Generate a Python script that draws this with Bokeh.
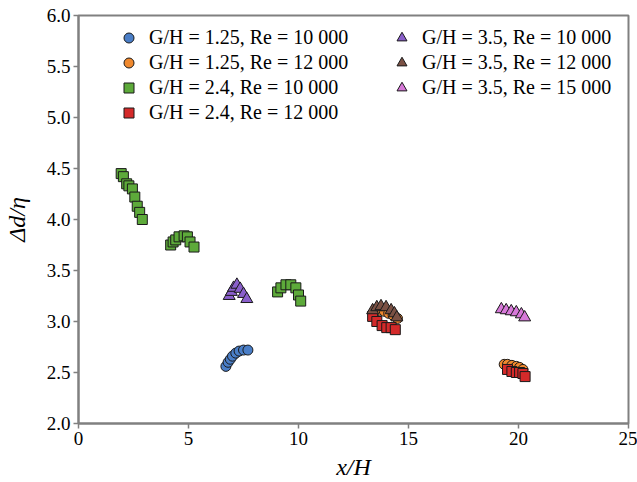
from bokeh.plotting import figure
from bokeh.models import Range1d, FixedTicker, Legend, LegendItem
from bokeh.embed import file_html
from bokeh.resources import INLINE

# ---------------- data ----------------
x_ticks = [0, 5, 10, 15, 20, 25]
x_tick_labels = ["0", "5", "10", "15", "20", "25"]
y_ticks = [2.0, 2.5, 3.0, 3.5, 4.0, 4.5, 5.0, 5.5, 6.0]
y_tick_labels = ["2.0", "2.5", "3.0", "3.5", "4.0", "4.5", "5.0", "5.5", "6.0"]

labels = [
    "G/H = 1.25, Re = 10 000",
    "G/H = 1.25, Re = 12 000",
    "G/H = 2.4, Re = 10 000",
    "G/H = 2.4, Re = 12 000",
    "G/H = 3.5, Re = 10 000",
    "G/H = 3.5, Re = 12 000",
    "G/H = 3.5, Re = 15 000",
]

blue_x = [6.70, 6.80, 6.90, 7.00, 7.15, 7.30, 7.50, 7.70]
blue_y = [2.56, 2.60, 2.63, 2.66, 2.69, 2.71, 2.72, 2.72]

orange_x = [13.50, 13.70, 13.90, 14.10, 14.30, 14.50, 19.35, 19.50, 19.70, 19.90, 20.05, 20.20]
orange_y = [3.10, 3.11, 3.10, 3.08, 3.06, 3.03, 2.58, 2.58, 2.57, 2.56, 2.55, 2.53]

green_x = [1.94, 2.04, 2.19, 2.29, 2.45, 2.56, 2.67, 2.78, 2.90,
           4.19, 4.30, 4.42, 4.57, 4.80, 4.95, 5.07, 5.25,
           9.05, 9.20, 9.43, 9.65, 9.88, 10.00, 10.10]
green_y = [4.45, 4.42, 4.35, 4.33, 4.30, 4.22, 4.13, 4.07, 4.00,
           3.75, 3.78, 3.80, 3.83, 3.84, 3.83, 3.78, 3.73,
           3.29, 3.33, 3.36, 3.36, 3.33, 3.26, 3.20]

red_x = [13.37, 13.56, 13.80, 14.01, 14.21, 14.40, 19.50, 19.70, 19.90, 20.05, 20.20, 20.30]
red_y = [3.05, 3.00, 2.96, 2.94, 2.94, 2.92, 2.53, 2.51, 2.50, 2.50, 2.49, 2.46]

purple_x = [6.85, 6.95, 7.05, 7.20, 7.35, 7.50, 7.65]
purple_y = [3.25, 3.29, 3.33, 3.36, 3.32, 3.27, 3.22]

brown_x = [13.37, 13.56, 13.75, 13.98, 14.21, 14.36, 14.47]
brown_y = [3.11, 3.14, 3.15, 3.14, 3.11, 3.08, 3.04]

pink_x = [19.22, 19.44, 19.67, 19.90, 20.13, 20.28]
pink_y = [3.12, 3.11, 3.10, 3.09, 3.07, 3.04]

# ---------------- figure ----------------
FONT = "Times"
AXIS_COLOR = "#808080"

p = figure(width=637, height=482, output_backend="svg", toolbar_location=None,
           x_range=Range1d(0, 25), y_range=Range1d(2, 6),
           min_border_left=78, min_border_right=9, min_border_top=15, min_border_bottom=58)
p.xgrid.visible = False
p.ygrid.visible = False
p.background_fill_color = "white"
p.border_fill_color = "white"
p.outline_line_color = AXIS_COLOR
p.outline_line_width = 2

p.xaxis.ticker = FixedTicker(ticks=x_ticks)
p.xaxis.major_label_overrides = {t: l for t, l in zip(x_ticks, x_tick_labels)}
p.yaxis.ticker = FixedTicker(ticks=y_ticks)
p.yaxis.major_label_overrides = {t: l for t, l in zip(y_ticks, y_tick_labels)}

for ax in (p.xaxis[0], p.yaxis[0]):
    ax.axis_line_color = AXIS_COLOR
    ax.axis_line_width = 2
    ax.major_tick_line_color = AXIS_COLOR
    ax.major_tick_line_width = 1.5
    ax.major_tick_in = 0
    ax.major_tick_out = 5
    ax.minor_tick_line_color = None
    ax.major_label_text_font = FONT
    ax.major_label_text_font_size = "19px"
    ax.major_label_text_color = "black"
    ax.axis_label_text_font = FONT
    ax.axis_label_text_font_size = "24px"
    ax.axis_label_text_font_style = "italic"
    ax.axis_label_text_color = "black"
    ax.major_label_standoff = 3

p.xaxis.axis_label = "x/H"
p.yaxis.axis_label = "Δd/η"
p.xaxis.axis_label_standoff = 6
p.yaxis.axis_label_standoff = 14

common = dict(line_color="#1a1a1a", line_width=1)
r_blue = p.scatter(blue_x, blue_y, marker="circle", size=10, fill_color="#4A7EC7", **common)
r_orange = p.scatter(orange_x, orange_y, marker="circle", size=10, fill_color="#F0892E", **common)
r_green = p.scatter(green_x, green_y, marker="square", size=10, fill_color="#5DAA3A", **common)
r_red = p.scatter(red_x, red_y, marker="square", size=10, fill_color="#D42A2A", **common)
r_purple = p.scatter(purple_x, purple_y, marker="triangle", size=12, fill_color="#8A5FCB", **common)
r_brown = p.scatter(brown_x, brown_y, marker="triangle", size=12, fill_color="#7B5144", **common)
r_pink = p.scatter(pink_x, pink_y, marker="triangle", size=12, fill_color="#D779D9", **common)

renderers = [r_blue, r_orange, r_green, r_red, r_purple, r_brown, r_pink]


def make_legend(items, loc):
    leg = Legend(items=items, location=loc,
                 background_fill_alpha=0, border_line_alpha=0,
                 padding=0, margin=0, spacing=0,
                 glyph_width=25, glyph_height=25, label_height=25,
                 label_standoff=8,
                 label_text_font=FONT, label_text_font_size="20px",
                 label_text_color="black")
    return leg


items1 = [LegendItem(label=labels[i], renderers=[renderers[i]]) for i in range(4)]
items2 = [LegendItem(label=labels[i], renderers=[renderers[i]]) for i in range(4, 7)]
p.add_layout(make_legend(items1, (38, 298)))
p.add_layout(make_legend(items2, (311, 323)))

open("out.html", "w").write(file_html(p, INLINE))
